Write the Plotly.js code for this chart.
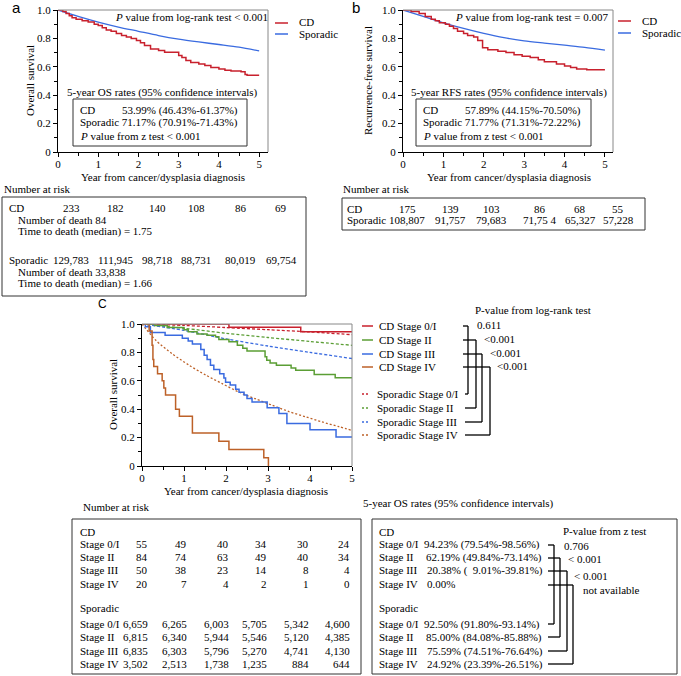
<!DOCTYPE html>
<html>
<head>
<meta charset="utf-8">
<script src="https://cdn.plot.ly/plotly-3.0.1.min.js"></script>
<style>body{margin:0;background:#fff}#chart{width:681px;height:676px}</style>
</head>
<body>
<div id="chart"></div>
<script>
// ---- panel a: overall survival, CD vs sporadic ----
var osCdTime = [0, 0.12, 0.2, 0.28, 0.35, 0.45, 0.6, 0.75, 0.9, 1.0, 1.1, 1.2, 1.32, 1.45, 1.58, 1.7, 1.82, 1.95, 2.05, 2.15, 2.3, 2.5, 2.65, 3.0, 3.08, 3.18, 3.3, 3.5, 3.65, 3.8, 4.0, 4.15, 4.3, 4.55, 4.65, 4.7, 5.0];
var osCdSurv = [1, 0.99, 0.975, 0.96, 0.945, 0.935, 0.925, 0.915, 0.9, 0.89, 0.875, 0.86, 0.85, 0.835, 0.82, 0.81, 0.8, 0.785, 0.77, 0.75, 0.725, 0.715, 0.703, 0.68, 0.665, 0.645, 0.63, 0.62, 0.61, 0.595, 0.585, 0.575, 0.57, 0.565, 0.545, 0.54, 0.54];
var osSpoTime = [0, 0.5, 1, 1.5, 2, 2.5, 3, 3.5, 4, 4.5, 5];
var osSpoSurv = [1, 0.955, 0.915, 0.88, 0.85, 0.82, 0.795, 0.775, 0.757, 0.738, 0.712];

// ---- panel b: recurrence-free survival ----
var rfsCdTime = [0, 0.2, 0.4, 0.55, 0.7, 0.8, 0.9, 1.05, 1.15, 1.25, 1.35, 1.5, 1.6, 1.75, 1.85, 1.97, 2.1, 2.35, 2.55, 2.75, 2.95, 3.15, 3.35, 3.5, 3.8, 4.0, 4.15, 4.3, 4.55, 5.0];
var rfsCdSurv = [1, 0.99, 0.975, 0.955, 0.935, 0.925, 0.91, 0.9, 0.885, 0.87, 0.85, 0.835, 0.82, 0.81, 0.785, 0.735, 0.72, 0.71, 0.7, 0.685, 0.675, 0.665, 0.65, 0.635, 0.62, 0.605, 0.595, 0.585, 0.579, 0.579];
var rfsSpoTime = [0, 0.5, 1, 1.5, 2, 2.5, 3, 3.5, 4, 4.5, 5];
var rfsSpoSurv = [1, 0.955, 0.91, 0.87, 0.835, 0.805, 0.783, 0.767, 0.752, 0.737, 0.718];

// ---- panel c: overall survival by stage ----
var stageNames = ['Stage 0/I', 'Stage II', 'Stage III', 'Stage IV'];
var cdS1Time = [0, 2.07, 3.78, 5.0];
var cdS1Surv = [1, 0.977, 0.945, 0.945];
var cdS2Time = [0, 0.3, 0.6, 1.0, 1.1, 1.31, 1.55, 1.75, 1.83, 2.07, 2.27, 2.4, 2.5, 2.93, 2.97, 3.05, 3.2, 3.55, 3.66, 4.1, 4.6, 5.0];
var cdS2Surv = [1, 0.99, 0.975, 0.96, 0.945, 0.93, 0.92, 0.91, 0.89, 0.875, 0.85, 0.83, 0.81, 0.77, 0.745, 0.725, 0.71, 0.69, 0.675, 0.645, 0.622, 0.622];
var cdS3Time = [0, 0.08, 0.2, 0.55, 0.96, 1.1, 1.2, 1.4, 1.48, 1.55, 1.63, 1.71, 1.85, 1.95, 1.99, 2.1, 2.23, 2.31, 2.43, 2.5, 2.62, 2.98, 3.26, 3.45, 4.0, 4.62, 5.0];
var cdS3Surv = [1, 0.98, 0.94, 0.92, 0.9, 0.88, 0.86, 0.82, 0.78, 0.75, 0.71, 0.68, 0.65, 0.62, 0.59, 0.57, 0.54, 0.52, 0.5, 0.475, 0.45, 0.41, 0.37, 0.3, 0.255, 0.204, 0.204];
var cdS4Time = [0, 0.17, 0.24, 0.26, 0.28, 0.37, 0.48, 0.52, 0.56, 0.8, 0.89, 1.2, 1.83, 2.07, 2.9, 3.01];
var cdS4Surv = [1, 0.95, 0.85, 0.75, 0.7, 0.65, 0.6, 0.55, 0.5, 0.4, 0.35, 0.233, 0.175, 0.117, 0.058, 0];
var spoYears = [0, 1, 2, 3, 4, 5];
var spoS1Surv = [1, 0.99, 0.975, 0.96, 0.944, 0.925];
var spoS2Surv = [1, 0.97, 0.935, 0.905, 0.877, 0.85];
var spoS3Surv = [1, 0.955, 0.895, 0.845, 0.8, 0.757];
var spoS4Time = [0, 0.33, 0.72, 1.12, 1.52, 1.91, 2.31, 2.71, 3.1, 3.5, 3.9, 4.29, 4.69, 5];
var spoS4Surv = [1, 0.885, 0.79, 0.71, 0.64, 0.58, 0.52, 0.472, 0.428, 0.383, 0.346, 0.31, 0.277, 0.25];

// ---- tables ----
var riskACd = [233, 182, 140, 108, 86, 69];
var riskASpo = [129783, 111945, 98718, 88731, 80019, 69754];
var riskBCd = [175, 139, 103, 86, 68, 55];
var riskBSpoLabels = ['108,807', '91,757', '79,683', '71,75 4', '65,327', '57,228'];
var riskCCd = [[55, 49, 40, 34, 30, 24], [84, 74, 63, 49, 40, 34], [50, 38, 23, 14, 8, 4], [20, 7, 4, 2, 1, 0]];
var riskCSpo = [[6659, 6265, 6003, 5705, 5342, 4600], [6815, 6340, 5944, 5546, 5120, 4385], [6835, 6303, 5796, 5270, 4741, 4130], [3502, 2513, 1738, 1235, 884, 644]];
var cdRates = ['94.23% (79.54%-98.56%)', '62.19% (49.84%-73.14%)', '20.38% (&nbsp;&nbsp;9.01%-39.81%)', '0.00%'];
var spoRates = ['92.50% (91.80%-93.14%)', '85.00% (84.08%-85.88%)', '75.59% (74.51%-76.64%)', '24.92% (23.39%-26.51%)'];
var zTestP = ['0.706', '&lt; 0.001', '&lt; 0.001', 'not available'];
var logRankP = ['0.611', '&lt;0.001', '&lt;0.001', '&lt;0.001'];

var W = 681, H = 676;
var F = '"Liberation Serif", "Times New Roman", serif';
var FS = 11;
var red = '#c8202d', blue = '#3a6be0', green = '#5b9e35', orange = '#bd6128';
var fmt = function (v) { return v.toLocaleString('en-US'); };

var ann = [], shp = [];
function T(x, y, text, xa, size, family, angle) {
  ann.push({xref: 'paper', yref: 'paper', x: x / W, y: 1 - y / H, text: text, showarrow: false,
    xanchor: xa || 'left', yanchor: 'middle', borderpad: 0, textangle: angle || 0,
    font: {family: family || F, size: size || FS, color: '#000'}});
}
function L(x0, y0, x1, y1, color, width, dash) {
  shp.push({type: 'line', xref: 'paper', yref: 'paper', x0: x0 / W, y0: 1 - y0 / H, x1: x1 / W, y1: 1 - y1 / H,
    line: {color: color || '#000', width: width || 1, dash: dash || 'solid'}});
}
function R(x0, y0, x1, y1, color) {
  shp.push({type: 'rect', xref: 'paper', yref: 'paper', x0: x0 / W, y0: 1 - y1 / H, x1: x1 / W, y1: 1 - y0 / H,
    line: {color: color || '#000', width: 1}, fillcolor: 'rgba(0,0,0,0)'});
}

var yearTicks = [0, 1, 2, 3, 4, 5];
var survTicks = [0, 0.2, 0.4, 0.6, 0.8, 1.0];
function xAx(left, right, maxv, anchor) {
  return {domain: [left / W, right / W], range: [0, maxv], anchor: anchor, showline: true, linecolor: '#000', linewidth: 1,
    ticks: 'outside', ticklen: 4, tickcolor: '#000', tickmode: 'array', tickvals: yearTicks, ticktext: yearTicks.map(String),
    ticklabelstandoff: -2,
    minor: {tickmode: 'array', tickvals: [0.5, 1.5, 2.5, 3.5, 4.5], ticks: 'outside', ticklen: 3, tickcolor: '#000', showgrid: false},
    showgrid: false, zeroline: false, tickfont: {family: F, size: FS, color: '#000'}};
}
function yAx(top, bottom, anchor) {
  return {domain: [1 - bottom / H, 1 - top / H], range: [0, 1], anchor: anchor, showline: true, linecolor: '#000', linewidth: 1,
    ticks: 'outside', ticklen: 4, tickcolor: '#000', tickmode: 'array', tickvals: survTicks,
    ticktext: ['0', '0.2', '0.4', '0.6', '0.8', '1.0'],
    minor: {tickmode: 'array', tickvals: [0.1, 0.3, 0.5, 0.7, 0.9], ticks: 'outside', ticklen: 3, tickcolor: '#000', showgrid: false},
    showgrid: false, zeroline: false, tickfont: {family: F, size: FS, color: '#000'}};
}
function line(x, y, color, xa, ya, shape, width, dash) {
  return {x: x, y: y, type: 'scatter', mode: 'lines', xaxis: xa, yaxis: ya, hoverinfo: 'skip',
    line: {color: color, width: width || 1.5, shape: shape, dash: dash || 'solid', smoothing: 0.8}};
}

var data = [
  line(osSpoTime, osSpoSurv, blue, 'x', 'y', 'spline', 1.3),
  line(osCdTime, osCdSurv, red, 'x', 'y', 'hv'),
  line(rfsSpoTime, rfsSpoSurv, blue, 'x2', 'y2', 'spline', 1.3),
  line(rfsCdTime, rfsCdSurv, red, 'x2', 'y2', 'hv'),
  line(spoYears, spoS1Surv, red, 'x3', 'y3', 'spline', 1.3, '3px,2px'),
  line(spoYears, spoS2Surv, green, 'x3', 'y3', 'spline', 1.3, '3px,2px'),
  line(spoYears, spoS3Surv, blue, 'x3', 'y3', 'spline', 1.3, '3px,2px'),
  line(spoS4Time, spoS4Surv, orange, 'x3', 'y3', 'spline', 1.3, '2px,2px'),
  line(cdS1Time, cdS1Surv, red, 'x3', 'y3', 'hv'),
  line(cdS2Time, cdS2Surv, green, 'x3', 'y3', 'hv'),
  line(cdS3Time, cdS3Surv, blue, 'x3', 'y3', 'hv'),
  line(cdS4Time, cdS4Surv, orange, 'x3', 'y3', 'hv')
];

// grey top/right frames
[[58, 268, 10, 152], [403, 613, 10, 152], [142, 352, 324, 466]].forEach(function (p) {
  L(p[0], p[2], p[1], p[2], '#888', 1);
  L(p[1], p[2], p[1], p[3], '#888', 1);
});

// panel labels
T(16, 8, 'a', 'center', 15, 'Liberation Sans, Arial, sans-serif');
T(356, 8, 'b', 'center', 15, 'Liberation Sans, Arial, sans-serif');
T(102, 304, 'C', 'center', 12, 'Liberation Sans, Arial, sans-serif');

// axis titles
T(30, 81, 'Overall survival', 'center', FS, F, -90);
T(368, 81, 'Recurrence-free survival', 'center', FS, F, -90);
T(113, 395, 'Overall survival', 'center', FS, F, -90);
T(163, 177, 'Year from cancer/dysplasia diagnosis', 'center');
T(509, 177, 'Year from cancer/dysplasia diagnosis', 'center');
T(246, 491, 'Year from cancer/dysplasia diagnosis', 'center');

// panel a annotations
T(114, 17, '<i>P</i> value from log-rank test &lt; 0.001');
L(275, 23, 288, 23, red, 1.5); T(298, 22, 'CD');
L(275, 34, 288, 34, blue, 1.5); T(298, 34, 'Sporadic');
T(162, 92, '5-year OS rates (95% confidence intervals)', 'center');
R(73, 99, 247, 146, '#333');
T(79, 110, 'CD'); T(239, 110, '53.99% (46.43%-61.37%)', 'right');
T(79, 123, 'Sporadic 71.17% (70.91%-71.43%)');
T(79, 136, '<i>P</i> value from z test &lt; 0.001');

// panel b annotations
T(454, 17, '<i>P</i> value from log-rank test = 0.007');
L(618, 21, 631, 21, red, 1.5); T(641, 21, 'CD');
L(618, 33, 631, 33, blue, 1.5); T(641, 33, 'Sporadic');
T(509, 92, '5-year RFS rates (95% confidence intervals)', 'center');
R(416, 99, 591, 146, '#333');
T(422, 110, 'CD'); T(582, 110, '57.89% (44.15%-70.50%)', 'right');
T(422, 123, 'Sporadic 71.77% (71.31%-72.22%)');
T(422, 136, '<i>P</i> value from z test &lt; 0.001');

// number at risk, panel a
var colA = [71, 115, 157, 196, 241, 281];
T(3, 189, 'Number at risk');
R(2, 197, 306, 296, '#333');
T(8, 208, 'CD');
riskACd.forEach(function (v, i) { T(colA[i], 208, fmt(v), 'center'); });
T(17, 220, 'Number of death 84');
T(17, 232, 'Time to death (median) = 1.75');
T(8, 260, 'Sporadic');
riskASpo.forEach(function (v, i) { T(colA[i], 260, fmt(v), 'center'); });
T(17, 272, 'Number of death 33,838');
T(17, 284, 'Time to death (median) = 1.66');

// number at risk, panel b
var colB = [407, 450, 492, 540, 580, 618];
T(342, 189, 'Number at risk');
R(342, 198, 645, 230, '#333');
T(346, 209, 'CD');
riskBCd.forEach(function (v, i) { T(colB[i], 209, fmt(v), 'center'); });
T(346, 220, 'Sporadic');
riskBSpoLabels.forEach(function (v, i) { T(colB[i], 220, v, 'center'); });

// panel c legend with log-rank brackets
var cdColors = [red, green, blue, orange];
var cdRowY = [326, 340, 354, 367];
var spoRowY = [394, 408, 422, 435];
var brX = [468, 476, 482, 490];
stageNames.forEach(function (s, i) {
  L(362, cdRowY[i], 373, cdRowY[i], cdColors[i], 1.5);
  T(378, cdRowY[i], 'CD ' + s);
  L(362, spoRowY[i], 370, spoRowY[i], cdColors[i], 1.3, '2px,2px');
  T(376, spoRowY[i], 'Sporadic ' + s);
  L(463, cdRowY[i], brX[i], cdRowY[i], '#000', 1.3);
  L(brX[i], cdRowY[i], brX[i], spoRowY[i], '#000', 1.3);
  L(465, spoRowY[i], brX[i], spoRowY[i], '#000', 1.3);
});
T(474, 310, 'P-value from log-rank test');
var lrX = [476, 483, 489, 496];
logRankP.forEach(function (p, i) { T(lrX[i], cdRowY[i] - 1, p); });

// number at risk, panel c
var colC = [149, 188, 230, 268, 310, 351];
var tCdY = [544, 557, 570, 584];
var tSpoY = [624, 637, 651, 664];
T(82, 507, 'Number at risk');
R(72, 519, 361, 674, '#333');
T(79, 532, 'CD');
T(79, 608, 'Sporadic');
stageNames.forEach(function (s, i) {
  T(79, tCdY[i], s);
  riskCCd[i].forEach(function (v, j) { T(colC[j], tCdY[i], fmt(v), 'right'); });
  T(79, tSpoY[i], s);
  riskCSpo[i].forEach(function (v, j) { T(colC[j], tSpoY[i], fmt(v), 'right'); });
});

// 5-year OS rates by stage, panel c
var rateX = [423, 425, 426, 426];
var zBrX = [554, 560, 567, 573];
var zX = [563, 567, 573, 582];
var zY = [546, 559, 576, 590];
T(362, 503, '5-year OS rates (95% confidence intervals)');
R(372, 519, 677, 674, '#333');
T(378, 532, 'CD');
T(378, 608, 'Sporadic');
T(562, 531, 'P-value from z test');
stageNames.forEach(function (s, i) {
  T(378, tCdY[i], s); T(rateX[i], tCdY[i], cdRates[i]);
  T(378, tSpoY[i], s); T(rateX[i], tSpoY[i], spoRates[i]);
  L(548, tCdY[i] + 1, zBrX[i], tCdY[i] + 1, '#000', 1.3);
  L(zBrX[i], tCdY[i] + 1, zBrX[i], tSpoY[i], '#000', 1.3);
  L(548, tSpoY[i], zBrX[i], tSpoY[i], '#000', 1.3);
  T(zX[i], zY[i], zTestP[i]);
});

var layout = {
  width: W, height: H, margin: {l: 0, r: 0, t: 0, b: 0},
  paper_bgcolor: '#fff', plot_bgcolor: '#fff', showlegend: false,
  xaxis: xAx(58, 268, 5.22, 'y'), yaxis: yAx(10, 152, 'x'),
  xaxis2: xAx(403, 613, 5.2, 'y2'), yaxis2: yAx(10, 152, 'x2'),
  xaxis3: xAx(142, 352, 5.0, 'y3'), yaxis3: yAx(324, 466, 'x3'),
  annotations: ann, shapes: shp
};

Plotly.newPlot('chart', data, layout, {staticPlot: true});
</script>
</body>
</html>
